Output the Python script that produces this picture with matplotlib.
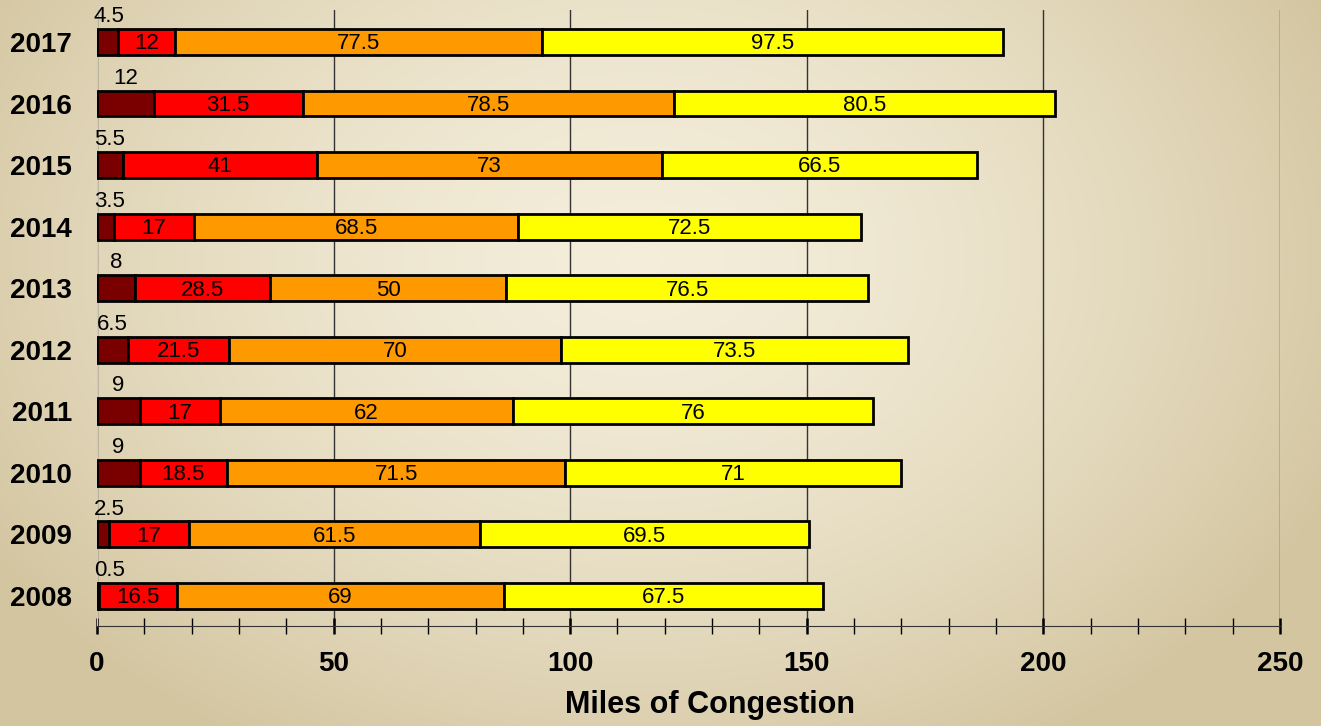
import matplotlib
matplotlib.use('Agg')
import matplotlib.pyplot as plt
import numpy as np

plt.rcParams['font.family'] = ['Liberation Sans', 'DejaVu Sans']

years = ['2008', '2009', '2010', '2011', '2012', '2013', '2014', '2015', '2016', '2017']
severe = [0.5, 2.5, 9, 9, 6.5, 8, 3.5, 5.5, 12, 4.5]
heavy = [16.5, 17, 18.5, 17, 21.5, 28.5, 17, 41, 31.5, 12]
moderate = [69, 61.5, 71.5, 62, 70, 50, 68.5, 73, 78.5, 77.5]
light = [67.5, 69.5, 71, 76, 73.5, 76.5, 72.5, 66.5, 80.5, 97.5]

colors = ['#7a0000', '#ff0000', '#ff9900', '#ffff00']

fig = plt.figure(figsize=(13.21, 7.26), dpi=100)

# radial background
bg = fig.add_axes([0, 0, 1, 1])
yy, xx = np.mgrid[0:726, 0:1321]
r = np.sqrt(((xx - 640) / 760.0) ** 2 + ((yy - 260) / 560.0) ** 2)
r = np.clip(r, 0, 1)
c0 = np.array([0.955, 0.930, 0.855])
c1 = np.array([0.830, 0.775, 0.630])
img = c0[None, None, :] * (1 - r[..., None] ** 1.6) + c1[None, None, :] * (r[..., None] ** 1.6)
bg.imshow(img, aspect='auto', extent=[0, 1, 0, 1])
bg.axis('off')

ax = fig.add_axes([0.0734, 0.1377, 0.8955, 0.8485])
ax.set_facecolor('none')

pos = np.arange(len(years))
h = 0.42
left = np.zeros(len(years))
series = [severe, heavy, moderate, light]
for k, vals in enumerate(series):
    vals = np.array(vals)
    ax.barh(pos, vals, height=h, left=left, color=colors[k],
            edgecolor='black', linewidth=2, zorder=3)
    for i, v in enumerate(vals):
        if k == 0:
            ax.text(max(left[i] + v / 2, 2.6), pos[i] + h / 2 + 0.03, f'{v:g}',
                    ha='center', va='bottom', fontsize=16, zorder=4)
        else:
            ax.text(left[i] + v / 2, pos[i] - 0.03, f'{v:g}',
                    ha='center', va='center', fontsize=16, zorder=4)
    left = left + vals

ax.set_xlim(0, 250)
ax.set_ylim(-0.49, 9.52)
ax.set_xticks(np.arange(0, 251, 50))
ax.set_xticks(np.arange(0, 251, 10), minor=True)
ax.xaxis.grid(True, which='major', color='#333333', linewidth=1, zorder=0)
ax.set_yticks(pos)
ax.set_yticklabels(years, fontsize=20, fontweight='bold')
ax.tick_params(axis='y', length=0, pad=18)
ax.tick_params(axis='x', which='both', direction='inout', length=12, width=1, pad=12)
ax.tick_params(axis='x', which='major', width=1.8)
for lab in ax.get_xticklabels():
    lab.set_fontsize(20)
    lab.set_fontweight('bold')
for s in ['top', 'right']:
    ax.spines[s].set_visible(False)
ax.spines['left'].set_color('#c8c8e8')
ax.spines['bottom'].set_color('#333333')
ax.set_xlabel('Miles of Congestion', fontsize=22, fontweight='bold')
ax.xaxis.set_label_coords(0.518, -0.104)

fig.savefig('out.png', dpi=100)
